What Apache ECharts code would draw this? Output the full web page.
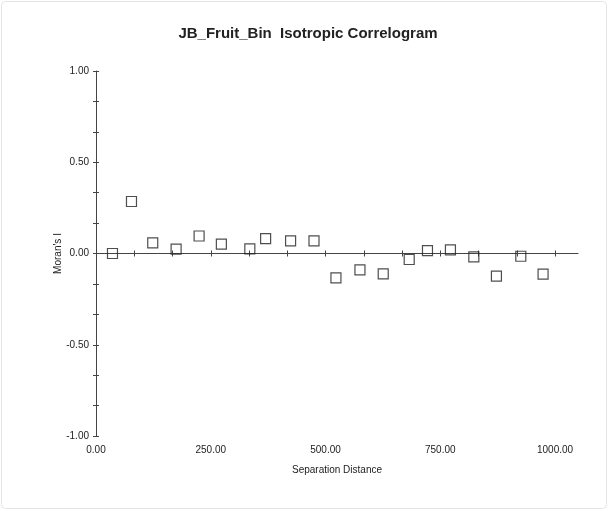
<!DOCTYPE html>
<html>
<head>
<meta charset="utf-8">
<script src="https://cdn.jsdelivr.net/npm/echarts@6/dist/echarts.min.js"></script>
<style>html,body{margin:0;padding:0;background:#fff;}#c{width:616px;height:520px;}</style>
</head>
<body>
<div id="c"></div>
<script>
var distances = [35.9, 77.3, 123.6, 174.5, 224.6, 273.1, 335.1, 369.5, 423.9, 474.9, 522.7, 575, 625.7, 682.3, 722.1, 772.1, 823.1, 872.3, 925.4, 973.9];
var moransI = [0.0, 0.285, 0.058, 0.024, 0.096, 0.051, 0.025, 0.082, 0.069, 0.069, -0.134, -0.090, -0.112, -0.033, 0.016, 0.020, -0.019, -0.124, -0.015, -0.113];
var xLabelTicks = [0, 250, 500, 750, 1000];
var yLabelTicks = [-1, -0.5, 0, 0.5, 1];
var xMinorTicks = [];
for (var i = 1; i <= 12; i++) xMinorTicks.push(i * 250 / 3);
var yMinorTicks = [];
for (var j = -6; j <= 6; j++) yMinorTicks.push(j / 6);

var points = distances.map(function (d, k) { return [d, moransI[k]]; });
var fontFam = '"Liberation Sans", Arial, sans-serif';
var axisColor = '#444';
var textColor = '#222';

var chart = echarts.init(document.getElementById('c'), null, {renderer: 'canvas'});
chart.setOption({
  animation: false,
  backgroundColor: '#fff',
  graphic: [{
    type: 'rect', shape: {x: 1.5, y: 1.5, width: 605, height: 507, r: 4},
    style: {fill: 'none', stroke: '#e4e4e4', lineWidth: 1}, silent: true, z: -10
  }],
  title: {
    text: 'JB_Fruit_Bin  Isotropic Correlogram',
    left: 'center', top: 21,
    textStyle: {fontFamily: fontFam, fontSize: 15, fontWeight: 'bold', color: '#222'}
  },
  grid: {left: 96, right: 38, top: 71, bottom: 84, containLabel: false},
  xAxis: [{
    type: 'value', min: 0, max: 1050, position: 'bottom',
    axisLine: {show: true, onZero: true, onZeroAxisIndex: 0, lineStyle: {color: axisColor, width: 1}},
    axisTick: {show: true, inside: false, length: 3, customValues: xMinorTicks, lineStyle: {color: axisColor}},
    axisLabel: {show: false}, splitLine: {show: false}
  }, {
    type: 'value', min: 0, max: 1050, position: 'bottom',
    axisLine: {show: false, onZero: true, onZeroAxisIndex: 0},
    axisTick: {show: true, inside: true, length: 3, customValues: xMinorTicks, lineStyle: {color: axisColor}},
    axisLabel: {show: false}, splitLine: {show: false}
  }, {
    type: 'value', min: 0, max: 1050, position: 'bottom',
    name: 'Separation Distance', nameLocation: 'middle', nameGap: 29,
    nameTextStyle: {fontFamily: fontFam, fontSize: 10, color: textColor},
    axisLine: {show: false, onZero: false},
    axisTick: {show: false},
    axisLabel: {show: true, margin: 9, customValues: xLabelTicks, fontFamily: fontFam, fontSize: 10, color: textColor,
      formatter: function (v) { return v.toFixed(2); }},
    splitLine: {show: false}
  }],
  yAxis: [{
    type: 'value', min: -1, max: 1, position: 'left',
    name: "Moran's I", nameLocation: 'middle', nameGap: 33, nameRotate: 90, nameMoveOverlap: false,
    nameTextStyle: {fontFamily: fontFam, fontSize: 10, color: textColor},
    axisLine: {show: true, onZero: false, lineStyle: {color: axisColor, width: 1}},
    axisTick: {show: true, inside: false, length: 3, customValues: yMinorTicks, lineStyle: {color: axisColor}},
    axisLabel: {show: true, margin: 7, customValues: yLabelTicks, fontFamily: fontFam, fontSize: 10, color: textColor,
      formatter: function (v) { return v.toFixed(2); }},
    splitLine: {show: false}
  }, {
    type: 'value', min: -1, max: 1, position: 'left',
    axisLine: {show: false, onZero: false},
    axisTick: {show: true, inside: true, length: 3, customValues: yMinorTicks, lineStyle: {color: axisColor}},
    axisLabel: {show: false}, splitLine: {show: false}
  }],
  series: [{
    type: 'scatter', xAxisIndex: 0, yAxisIndex: 0,
    data: points, symbol: 'rect', symbolSize: 10,
    itemStyle: {color: 'rgba(0,0,0,0)', borderColor: '#222', borderWidth: 1.2},
    z: 5
  }]
});
</script>
</body>
</html>
